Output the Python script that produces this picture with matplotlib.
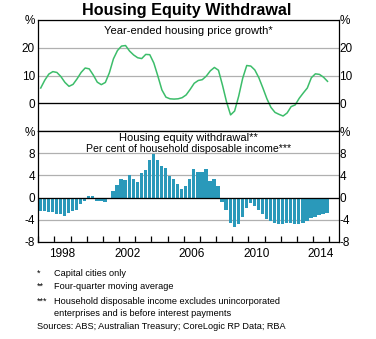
import numpy as np
import matplotlib
matplotlib.use('Agg')
from matplotlib import pyplot as plt

plt.rcParams['font.family'] = ['Liberation Sans', 'DejaVu Sans']

# year-ended housing price growth, quarterly (per cent)
price_x0 = 1997.15
price_growth = [
    5.5, 8.3, 10.5, 11.4, 11.1, 9.6, 7.5, 6.1, 6.8, 8.8, 11.1, 12.7,
    12.4, 10.2, 7.6, 6.7, 7.5, 11.0, 16.0, 19.0, 20.6, 20.8, 18.8, 17.4,
    16.4, 16.1, 17.6, 17.5, 14.5, 9.8, 4.8, 2.2, 1.6, 1.5, 1.6, 2.0,
    3.0, 5.0, 7.2, 8.2, 8.5, 9.8, 11.7, 12.9, 11.9, 6.5, 0.5, -4.2,
    -2.8, 2.5, 9.0, 13.6, 13.4, 12.0, 9.2, 5.5, 1.6, -1.5, -3.3, -4.0,
    -4.6, -3.5, -1.2, -0.6, 1.8, 3.7, 5.5, 9.2, 10.6, 10.4, 9.4, 7.9,
]

# housing equity withdrawal, quarterly from 1997 Q1 (per cent of income)
hew_start = 1997.0
hew = [
    -2.4, -2.4, -2.6, -2.6, -3.0, -3.0, -3.3, -2.8, -2.4, -2.3, -1.15, -0.6,
    0.25, 0.25, -0.6, -0.6, -0.8, 0.0, 1.15, 2.25, 3.33, 3.15, 4.06, 3.33,
    2.8, 4.4, 5.0, 6.8, 7.9, 6.8, 5.7, 5.3, 3.9, 3.33, 2.4, 1.5,
    2.06, 3.33, 5.15, 4.6, 4.6, 5.15, 2.97, 3.33, 2.06, -0.8, -2.25, -4.6,
    -5.33, -4.8, -3.5, -1.9, -0.97, -1.5, -2.25, -3.0, -3.9, -4.25, -4.6, -4.8,
    -4.8, -4.6, -4.6, -4.8, -4.8, -4.6, -4.25, -3.7, -3.5, -3.15, -3.0, -2.8,
]

year_labels = [1998, 2002, 2006, 2010, 2014]

line_color = '#3cbd6a'
bar_color = '#2a99ba'
grid_color = '#b0b0b0'

W, H = 376, 339
fig = plt.figure(figsize=(W / 100, H / 100), dpi=100)


def px(x, y):
    return x / W, 1 - y / H


left, right = 38.3, 338.5
ax1 = fig.add_axes([left / W, 1 - 131 / H, (right - left) / W, 111 / H])
ax2 = fig.add_axes([left / W, 1 - 242 / H, (right - left) / W, 111 / H])

xlim = (1997.0, 2015.58)

# top panel
px_x = price_x0 + 0.25 * np.arange(len(price_growth))
ax1.plot(px_x, price_growth, color=line_color, lw=1.1)
ax1.axhline(0, color='black', lw=0.9)

# bottom panel
bx = hew_start + 0.125 + 0.25 * np.arange(len(hew))
ax2.bar(bx, hew, width=0.205, color=bar_color, zorder=2)
ax2.axhline(0, color='black', lw=0.9, zorder=3)

panels = [
    (ax1, (-10, 30), [0, 10, 20, 30], ['0', '10', '20', '%']),
    (ax2, (-8, 12), [-8, -4, 0, 4, 8, 12], ['-8', '-4', '0', '4', '8', '%']),
]
for ax, ylim, ticks, labels in panels:
    ax.set_xlim(*xlim)
    ax.set_ylim(*ylim)
    ax.set_yticks(ticks)
    ax.set_yticklabels(labels)
    ax.set_axisbelow(True)
    ax.yaxis.grid(True, color=grid_color, lw=0.9)
    ax.tick_params(axis='y', length=0, labelsize=8.5, pad=2.5)
    for s in ax.spines.values():
        s.set_linewidth(0.9)
    # right-hand labels sit against the axis
    tw = ax.twinx()
    tw.set_ylim(*ylim)
    tw.set_yticks(ticks)
    tw.set_yticklabels(labels)
    tw.tick_params(axis='y', length=0, labelsize=8.5, pad=0.6)
    tw.spines[:].set_visible(False)

ax1.tick_params(axis='x', bottom=False, labelbottom=False)

ax2.set_xticks(np.arange(1997, 2016))
ax2.set_xticks([y + 0.5 for y in year_labels], minor=True)
ax2.set_xticklabels([str(y) for y in year_labels], minor=True)
ax2.tick_params(axis='x', which='major', direction='in', length=4,
                width=0.9, labelbottom=False)
ax2.tick_params(axis='x', which='minor', length=0, labelsize=8.5, pad=4)

fig.text(*px(187, 10), 'Housing Equity Withdrawal', ha='center', va='center',
         fontsize=11.6, fontweight='bold')
ax1.text(0.5, 0.9, 'Year-ended housing price growth*', transform=ax1.transAxes,
         ha='center', va='center', fontsize=8.0)
ax2.text(0.5, 0.935, 'Housing equity withdrawal**', transform=ax2.transAxes,
         ha='center', va='center', fontsize=8.0)
ax2.text(0.5, 0.835, 'Per cent of household disposable income***',
         transform=ax2.transAxes, ha='center', va='center', fontsize=7.6)

notes = [
    ('*', 'Capital cities only', 273),
    ('**', 'Four-quarter moving average', 286.7),
    ('***', 'Household disposable income excludes unincorporated', 301.5),
    ('', 'enterprises and is before interest payments', 313.8),
]
for mark, txt, y in notes:
    fig.text(*px(36.7, y), mark, ha='left', va='center', fontsize=6.6)
    fig.text(*px(54.3, y), txt, ha='left', va='center', fontsize=6.6)
fig.text(*px(36.7, 326.7), 'Sources: ABS; Australian Treasury; CoreLogic RP Data; RBA',
         ha='left', va='center', fontsize=6.6)

fig.savefig('out.png', dpi=100)
